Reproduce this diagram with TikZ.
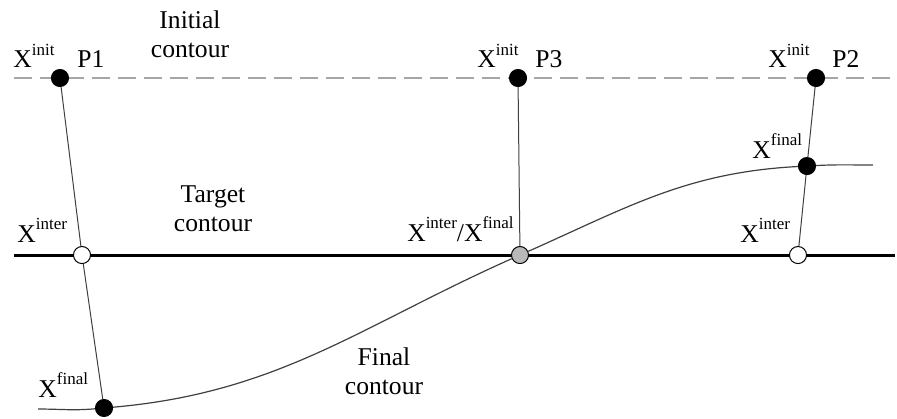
\documentclass[tikz,border=0pt]{standalone}
\usepackage{fontspec}
\setmainfont{Liberation Serif}
\usetikzlibrary{positioning}
\newcommand{\xlab}[1]{X\raisebox{6.3pt}{\fontsize{8.5}{10}\selectfont #1}}

\begin{document}
\begin{tikzpicture}[
        dot/.style={circle, draw, minimum size=0.3cm, inner sep=0pt, line width=0.5pt},
        lab/.style={inner sep=0pt, anchor=base west, font=\fontsize{12.8}{14.5}\selectfont},
        title/.style={align=center, inner sep=0pt, font=\fontsize{12.8}{14.5}\selectfont},
        ray/.style={line width=0.5pt, black!75},
        curve/.style={line width=0.6pt, black!75}
    ]
        \useasboundingbox (0,0) rectangle (15.763,7.346);
        \coordinate (il) at (0.246,5.975);
        \coordinate (ir) at (15.73,5.975);
        \coordinate (tl) at (0.246,2.864);
        \coordinate (tr) at (15.728,2.864);
        \coordinate (fs) at (0.668,0.158);
        \coordinate (fe) at (15.341,4.446);
        \draw[gray!70, line width=0.8pt, dash pattern=on 9pt off 4pt] (il) -- (ir);
        \draw[line width=1.5pt] (tl) -- (tr);

        \node[dot, fill=black] (p1) at (1.054,5.975) {};
        \node[dot, fill=white] (p1i) at (1.441,2.864) {};
        \node[dot, fill=black] (p1f) at (1.828,0.176) {};
        \node[dot, fill=black] (p3) at (9.103,5.975) {};
        \node[dot, fill=gray!55] (p3m) at (9.138,2.864) {};
        \node[dot, fill=black] (p2) at (14.340,5.975) {};
        \node[dot, fill=black] (p2f) at (14.181,4.428) {};
        \node[dot, fill=white] (p2i) at (14.023,2.864) {};

        \draw[ray] (p1) -- (p1i) -- (p1f);
        \draw[ray] (p3) -- (p3m);
        \draw[ray] (p2) -- (p2f) -- (p2i);
        \draw[curve] (fs) to[out=0, in=185] (p1f) to[out=5, in=204] (p3m)
            to[out=24, in=183] (p2f) to[out=3, in=180] (fe);

        \node[title] (initc) at (3.339,6.748) {Initial\\contour};
        \node[title] (targetc) at (3.743,3.673) {Target\\contour};
        \node[title] (finalc) at (6.748,0.826) {Final\\contour};

        \node[lab] (xi1) at (0.228,6.151) {\xlab{init}};
        \node[lab] (lp1) at (1.353,6.151) {P1};
        \node[lab] (xi3) at (8.382,6.151) {\xlab{init}};
        \node[lab] (lp3) at (9.402,6.151) {P3};
        \node[lab] (xi2) at (13.496,6.151) {\xlab{init}};
        \node[lab] (lp2) at (14.621,6.151) {P2};
        \node[lab] (xr1) at (0.299,3.093) {\xlab{inter}};
        \node[lab] (xm3) at (7.150,3.110) {\xlab{inter}/\xlab{final}};
        \node[lab] (xf2) at (13.215,4.569) {\xlab{final}};
        \node[lab] (xr2) at (13.004,3.093) {\xlab{inter}};
        \node[lab] (xf1) at (0.668,0.369) {\xlab{final}};
    \end{tikzpicture}
\end{document}
